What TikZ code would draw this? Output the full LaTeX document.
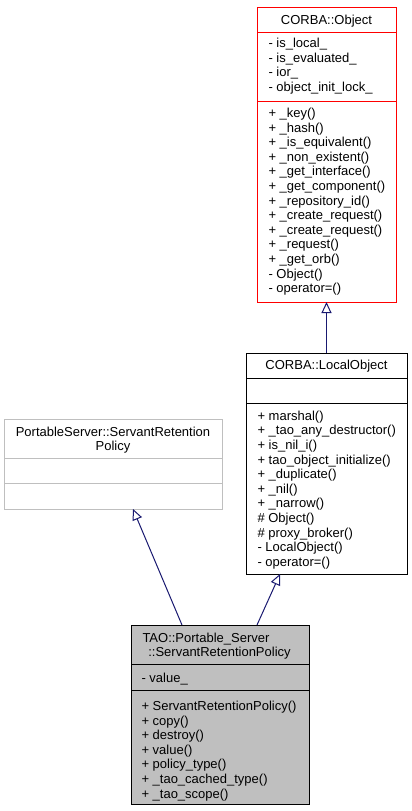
\documentclass[tikz,border=0pt]{standalone}
\usepackage{fontspec}
\setmainfont{Liberation Sans}
\usetikzlibrary{arrows.meta}
\definecolor{edgeblue}{HTML}{191970}
\definecolor{boxgray}{HTML}{BFBFBF}
\begin{document}
\begin{tikzpicture}[x=1pt,y=-1pt,line width=1pt,
  classbox/.style={draw, rectangle, inner sep=0pt, outer sep=0pt, anchor=north west},
  memb/.style={anchor=base west, inner sep=0pt, font=\fontsize{13pt}{14.6pt}\selectfont},
  ctitle/.style={anchor=base, inner sep=0pt, font=\fontsize{13pt}{14.6pt}\selectfont},
  inherit/.style={draw=edgeblue, line width=1pt, -{Triangle[open, length=11pt, width=10pt, fill=white]}}]
\useasboundingbox (0,0) rectangle (412,811);

% CORBA::Object
\node[classbox, draw=red, minimum width=139pt, minimum height=295pt] (obj) at (257,7) {};
\draw[red] (obj.west |- 0,32) -- (obj.east |- 0,32);
\draw[red] (obj.west |- 0,101) -- (obj.east |- 0,101);
\node[ctitle] (objt) at (326.5,24) {CORBA::Object};
\foreach \t [count=\i from 0] in {- is\_local\_, - is\_evaluated\_, - ior\_, - object\_init\_lock\_}
  \node[memb] (obja\i) at (268,{47.5+14.6*\i}) {\t};
\foreach \t [count=\i from 0] in {+ \_key(), + \_hash(), + \_is\_equivalent(), + \_non\_existent(), + \_get\_interface(), + \_get\_component(), + \_repository\_id(), + \_create\_request(), + \_create\_request(), + \_request(), + \_get\_orb(), - Object(), - operator=()}
  \node[memb] (objm\i) at (268,{117.5+14.6*\i}) {\t};

% CORBA::LocalObject
\node[classbox, draw=black, minimum width=161pt, minimum height=221pt] (lo) at (246,353) {};
\draw (lo.west |- 0,378) -- (lo.east |- 0,378);
\draw (lo.west |- 0,403) -- (lo.east |- 0,403);
\node[ctitle] (lot) at (326.5,369.5) {CORBA::LocalObject};
\foreach \t [count=\i from 0] in {+ marshal(), + \_tao\_any\_destructor(), + is\_nil\_i(), + tao\_object\_initialize(), + \_duplicate(), + \_nil(), + \_narrow(), \# Object(), \# proxy\_broker(), - LocalObject(), - operator=()}
  \node[memb] (lom\i) at (257,{420.2+14.6*\i}) {\t};

% PortableServer::ServantRetentionPolicy
\node[classbox, draw=boxgray, minimum width=218pt, minimum height=90pt] (ps) at (4,419) {};
\draw[boxgray] (ps.west |- 0,458) -- (ps.east |- 0,458);
\draw[boxgray] (ps.west |- 0,483) -- (ps.east |- 0,483);
\node[ctitle] (pst1) at (113,436.5) {PortableServer::ServantRetention};
\node[ctitle] (pst2) at (113,450.5) {Policy};

% TAO::Portable_Server::ServantRetentionPolicy
\node[classbox, draw=black, fill=boxgray, minimum width=178pt, minimum height=179pt] (tao) at (131,625) {};
\draw (tao.west |- 0,664.5) -- (tao.east |- 0,664.5);
\draw (tao.west |- 0,690.5) -- (tao.east |- 0,690.5);
\node[memb] (taot1) at (142,642.5) {TAO::Portable\_Server};
\node[ctitle] (taot2) at (219.5,656.5) {::ServantRetentionPolicy};
\node[memb] (taoa0) at (141,682.5) {- value\_};
\foreach \t [count=\i from 0] in {+ ServantRetentionPolicy(), + copy(), + destroy(), + value(), + policy\_type(), + \_tao\_cached\_type(), + \_tao\_scope()}
  \node[memb] (taom\i) at (141,{710.5+14.6*\i}) {\t};

% inheritance connectors
\draw[inherit] (lo.north) -- (obj.south);
\draw[inherit] ([xshift=126pt]tao.north west) -- ([xshift=34pt]lo.south west);
\draw[inherit] ([xshift=51pt]tao.north west) -- ([xshift=129pt]ps.south west);
\end{tikzpicture}
\end{document}
